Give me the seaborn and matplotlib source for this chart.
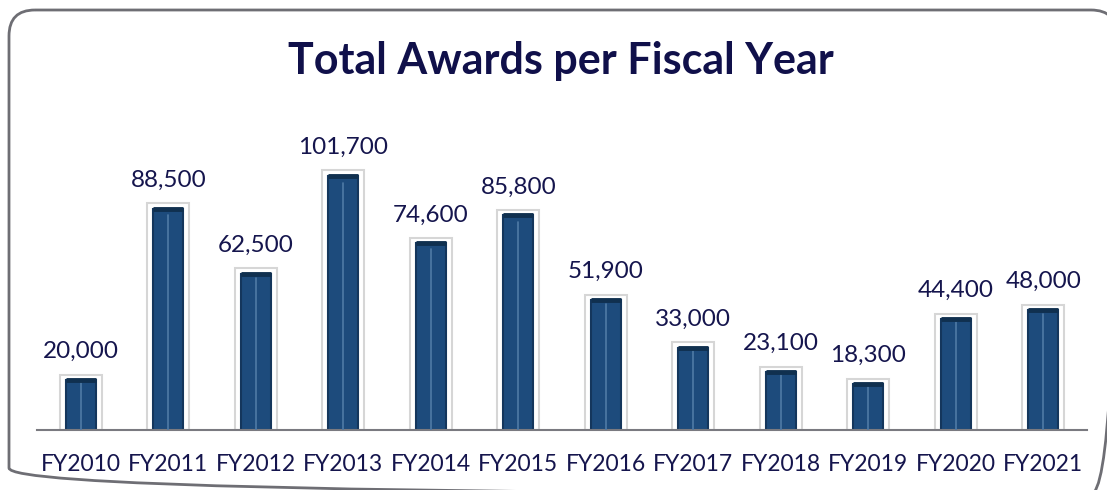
import matplotlib
matplotlib.use("Agg")
import matplotlib.pyplot as plt
from matplotlib.patches import FancyBboxPatch
import seaborn as sns
import pandas as pd

years = ["FY2010", "FY2011", "FY2012", "FY2013", "FY2014", "FY2015",
         "FY2016", "FY2017", "FY2018", "FY2019", "FY2020", "FY2021"]
awards = [20000, 88500, 62500, 101700, 74600, 85800,
          51900, 33000, 23100, 18300, 44400, 48000]

TEXT = "#15154d"
BAR = "#1d4b7c"
EDGE = "#14365c"

sns.set_theme(style="white")
plt.rcParams["font.family"] = ["Lato", "DejaVu Sans"]

df = pd.DataFrame({"year": years, "awards": awards})
df["glass"] = df["awards"] + 2200  # light "glass" holder drawn slightly taller

fig = plt.figure(figsize=(11.07, 4.9), dpi=100)

# rounded frame around the whole chart, drawn on a pixel-scaled overlay
bg = fig.add_axes([0, 0, 1, 1], zorder=0)
bg.set_xlim(0, 1107)
bg.set_ylim(490, 0)
bg.axis("off")
bg.add_patch(FancyBboxPatch((9, 10), 1108, 484,
                            boxstyle="round,pad=0,rounding_size=26",
                            fill=False, edgecolor="#6e6e74", linewidth=2))

ax = fig.add_axes([37 / 1107, 1 - 430 / 490, 1050 / 1107, 300 / 490], zorder=1)

sns.barplot(data=df, x="year", y="glass", color="white", width=0.48,
            edgecolor="#d6d6d6", linewidth=1.5, saturation=1, ax=ax)
sns.barplot(data=df, x="year", y="awards", color=BAR, width=0.34,
            edgecolor=EDGE, linewidth=1.5, saturation=1, ax=ax)

dark = ax.patches[len(years):]
for p, v in zip(dark, awards):
    cx = p.get_x() + p.get_width() / 2
    # thin highlight stripe and darker cap
    ax.plot([cx, cx], [0, p.get_height() * 0.97], color="#4f7aa6", lw=1.2, zorder=5)
    ax.plot([p.get_x(), p.get_x() + p.get_width()], [v, v], color="#10304f",
            lw=3.5, zorder=5, solid_capstyle="butt")
    ax.annotate(f"{v:,}", (cx, v), xytext=(0, 13), textcoords="offset points",
                ha="center", va="bottom", fontsize=17.5, color=TEXT)

ax.set_xlim(-0.5, len(years) - 0.5)
ax.set_ylim(0, 120000)
ax.set_xlabel("")
ax.set_ylabel("")
ax.set_yticks([])
ax.tick_params(axis="x", length=0, pad=17, labelsize=16.5, labelcolor=TEXT)
for side in ["top", "left", "right"]:
    ax.spines[side].set_visible(False)
ax.spines["bottom"].set_color("#7a7a80")
ax.spines["bottom"].set_linewidth(1.5)
ax.set_facecolor("none")

fig.text(561 / 1107, 1 - 61 / 490, "Total Awards per Fiscal Year",
         ha="center", va="center", fontsize=31, fontweight="bold", color="#10104a")

fig.savefig("out.png", dpi=100)
